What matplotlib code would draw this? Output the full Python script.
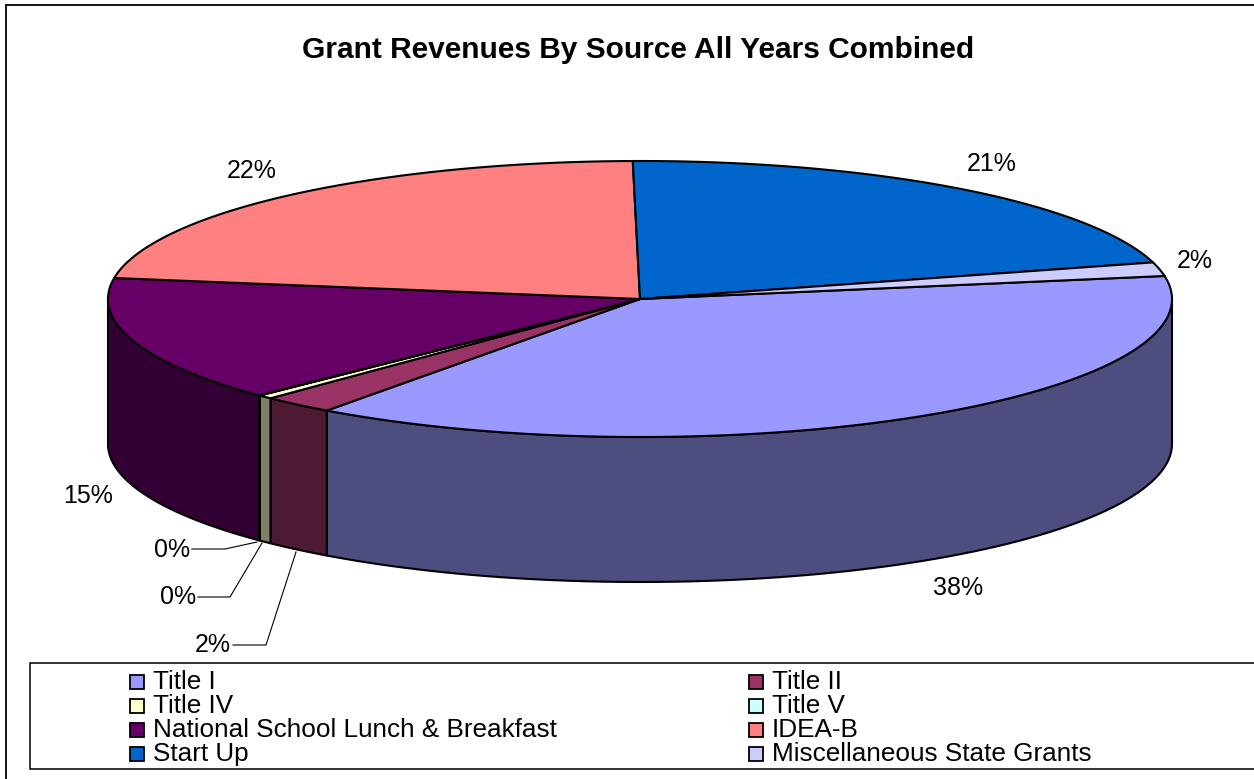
import numpy as np
import matplotlib
matplotlib.use('Agg')
import matplotlib.pyplot as plt
from matplotlib.patches import Polygon, Rectangle

plt.rcParams['font.family'] = ['Liberation Sans', 'DejaVu Sans']

categories = ['Title I', 'Title II', 'Title IV', 'Title V',
              'National School Lunch & Breakfast', 'IDEA-B', 'Start Up',
              'Miscellaneous State Grants']
values = [37.6, 2.2, 0.45, 0.03, 14.7, 22.3, 20.9, 1.6]
colors = ['#9999FF', '#993366', '#FFFFCC', '#CCFFFF',
          '#660066', '#FF8080', '#0066CC', '#CCCCFF']
side_colors = ['#4D4D80', '#4D1A33', '#808066', '#668080',
               '#330033', '#804040', '#003366', '#666680']

# label anchors in picture pixels, same order as categories
label_x = [958, 213, 172, 178, 88, 252, 992, 1195]
label_y = [588, 645, 550, 597, 496, 171, 164, 261]

# leader lines for the small slices
leaders = {
    1: [(233, 645), (266, 645), (296, 552)],
    2: [(192, 549), (225, 549), (257, 542)],
    3: [(198, 597), (230, 597), (262, 543)],
}

cx, cy, rx, ry = 640, 299, 532, 138
depth = 145
start_angle = 9.6

fig = plt.figure(figsize=(12.54, 7.79), dpi=100)
ax = fig.add_axes([0, 0, 1, 1])
ax.set_xlim(0, 1254)
ax.set_ylim(779, 0)
ax.axis('off')


def rim(t):
    r = np.radians(t)
    return cx + rx * np.cos(r), cy - ry * np.sin(r)


sweeps = np.array(values) / sum(values) * 360
ends = start_angle - np.cumsum(sweeps)
starts = ends + sweeps

# outer chart frame, runs off the right and bottom edges
ax.add_patch(Rectangle((6, 5), 1260, 800, fc='white', ec='black', lw=1.3, zorder=0))

# side walls, only the front half of the ellipse shows
for a, b, c in zip(starts, ends, side_colors):
    for shift in (0, -360):
        hi = min(a + shift, 0)
        lo = max(b + shift, -180)
        if hi <= lo:
            continue
        t = np.linspace(hi, lo, 80)
        x, y = rim(t)
        pts = list(zip(x, y)) + list(zip(x[::-1], (y + depth)[::-1]))
        ax.add_patch(Polygon(pts, closed=True, fc=c, ec='black', lw=1.5,
                             joinstyle='round', zorder=2))

# top faces
for a, b, c in zip(starts, ends, colors):
    t = np.linspace(a, b, 120)
    x, y = rim(t)
    pts = [(cx, cy)] + list(zip(x, y))
    ax.add_patch(Polygon(pts, closed=True, fc=c, ec='black', lw=1.5,
                         joinstyle='round', zorder=3))

ax.text(638, 50, 'Grant Revenues By Source All Years Combined', fontsize=21.5,
        fontweight='bold', ha='center', va='center', zorder=5)

for i, v in enumerate(values):
    ax.text(label_x[i], label_y[i], f'{round(v)}%', fontsize=18,
            ha='center', va='center', zorder=5)

for pts in leaders.values():
    xs, ys = zip(*pts)
    ax.plot(xs, ys, color='black', lw=0.8, zorder=4)

# legend box runs off the right edge
ax.add_patch(Rectangle((30, 663), 1260, 106, fc='white', ec='black', lw=1.1, zorder=4))
legend_x = [130, 749]
legend_y = [681, 705, 729, 753]
for i, name in enumerate(categories):
    lx = legend_x[i % 2]
    ly = legend_y[i // 2]
    ax.add_patch(Rectangle((lx, ly - 6.5), 14, 14, fc=colors[i], ec='black',
                           lw=1.3, zorder=5))
    ax.text(lx + 23, ly + 1, name, fontsize=18.8, ha='left', va='center', zorder=5)

fig.savefig('out.png', dpi=100)
